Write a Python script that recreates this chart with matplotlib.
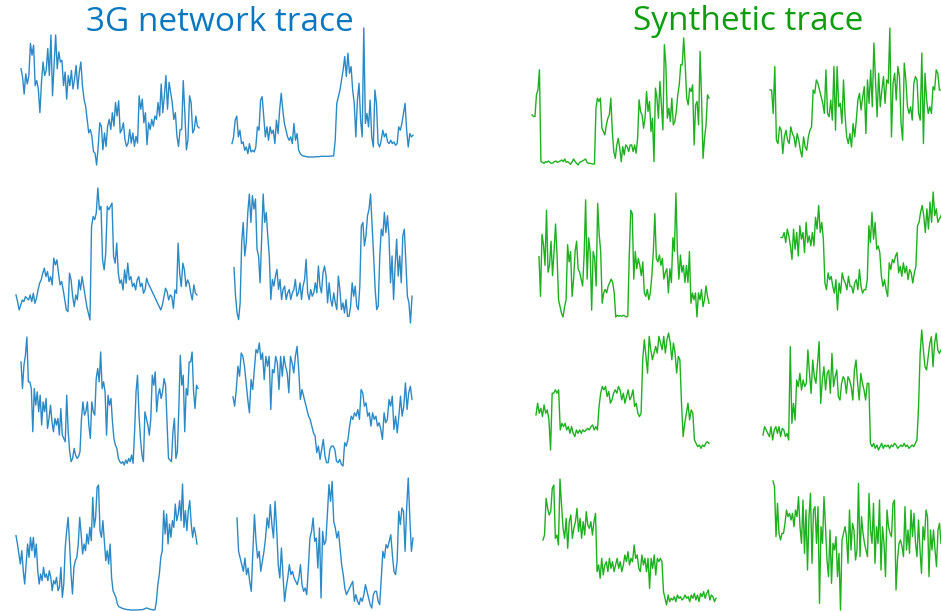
import matplotlib.pyplot as plt

# throughput samples (arbitrary units)
a1 = [285, 260, 210, 270, 240, 265, 360, 325, 355, 235, 250, 225, 155, 245, 305, 265, 280, 345, 265, 385,
      205, 295, 385, 285, 335, 305, 310, 235, 275, 195, 265, 235, 280, 225, 255, 295, 225, 275, 305, 235,
      195, 175, 135, 95, 105, 85, 40, 35, 0, 55, 125, 115, 45, 95, 55, 115, 135, 105, 155, 115, 185, 145,
      190, 95, 105, 125, 75, 55, 65, 105, 65, 95, 55, 85, 65, 205, 165, 195, 125, 155, 60, 125, 105, 135,
      115, 145, 135, 185, 145, 240, 155, 205, 265, 165, 245, 215, 185, 135, 155, 85, 55, 105, 105, 250,
      155, 45, 75, 205, 185, 95, 105, 145, 115, 110]
b1 = [40, 60, 110, 122, 60, 80, 40, 45, 20, 30, 10, 40, 15, 20, 15, 30, 90, 80, 170, 180, 120, 60, 90, 50,
      90, 70, 80, 40, 110, 70, 140, 190, 140, 100, 80, 60, 50, 60, 40, 100, 50, 70, 20, 10,
      5, 3, 2, 1, 0, 0, 0, 0, 0, 1, 1, 1, 2, 2, 2, 2, 2, 2, 3, 3, 3,
      50, 160, 180, 200, 230, 260, 300, 240, 310, 250, 270, 200, 160, 60, 170, 220, 110, 60, 385, 100,
      130, 90, 170, 60, 30, 200, 160, 40, 30, 50, 80, 60, 70, 45, 40, 50, 40, 45, 35, 40, 90, 80, 100,
      130, 160, 80, 30, 70, 60, 65]
a2 = [75, 55, 30, 45, 60, 55, 70, 65, 60, 75, 55, 80, 50, 65, 90, 110, 120, 140, 155, 130, 145, 115, 130,
      105, 185, 165, 180, 140, 105, 115, 90, 60, 30, 25, 140, 120, 70, 40, 75, 60, 120, 90, 130, 100, 70,
      40, 20, 0, 280, 310, 300, 320, 395, 330, 340, 180, 150, 200, 340, 330, 340, 350, 190, 170, 230, 140,
      110, 120, 90, 150, 110, 170, 120, 130, 100, 110, 90, 120, 130, 100, 110, 80, 90, 125, 110, 100, 90,
      80, 70, 60, 50, 40, 30, 45, 70, 95, 85, 60, 75, 70, 35, 90, 80, 230, 140, 100, 170, 150, 100, 120,
      110, 80, 60, 105, 80, 75]
b2 = [165, 80, 30, 10, 60, 240, 300, 200, 240, 330, 385, 300, 380, 340, 370, 220, 200, 120, 250, 385, 300,
      330, 260, 200, 70, 130, 110, 140, 160, 100, 130, 70, 100, 110, 70, 90, 100, 70, 90, 100, 130, 80, 90,
      120, 70, 110, 130, 190, 90, 70, 100, 80, 90, 120, 90, 170, 110, 90, 150, 170, 140, 60, 120, 70, 50,
      90, 60, 40, 140, 100, 40, 60, 30, 70, 20, 20, 50, 120, 80, 110, 50, 40, 110, 290, 300, 230, 260, 320,
      340, 385, 290, 200, 100, 40, 50, 200, 280, 260, 330, 270, 320, 260, 120, 200, 70, 170, 250, 140, 200,
      120, 260, 280, 180, 80, 60, 0, 80]
a3 = [310, 230, 300, 330, 385, 250, 250, 230, 100, 230, 180, 220, 160, 210, 120, 190, 160, 200, 110, 140,
      180, 130, 100, 140, 120, 140, 90, 170, 90, 80, 70, 210, 100, 40, 10, 20, 50, 30, 20, 25, 40, 140, 190,
      150, 160, 190, 120, 80, 190, 160, 150, 260, 290, 250, 340, 230, 250, 220, 90, 210, 180, 200, 130, 80,
      60, 50, 20, 10, 5, 10, 0, 15, 5, 20, 10, 30, 5, 100, 220, 270, 150, 80, 30, 10, 160, 140, 120, 90,
      140, 270, 240, 280, 160, 210, 230, 200, 220, 260, 240, 130, 20, 15, 10, 100, 140, 20, 40, 170, 330,
      240, 270, 100, 230, 210, 310, 310, 340, 220, 170, 240, 230]
b3 = [208, 180, 230, 300, 270, 340, 330, 300, 250, 200, 160, 260, 230, 290, 350, 340, 370, 320, 340, 260,
      330, 300, 330, 170, 290, 280, 330, 310, 230, 330, 270, 330, 300, 280, 220, 330, 310, 280, 330, 360,
      290, 200, 230, 210, 190, 170, 150, 140, 120, 100, 90, 40, 60, 20, 50, 80, 30, 10, 10, 50, 60, 60, 50,
      15, 10, 20, 5, 0, 70, 60, 80, 120, 150, 140, 160, 150, 170, 140, 230, 220, 180, 190, 150, 160, 120,
      160, 140, 150, 120, 130, 110, 80, 160, 130, 140, 200, 180, 210, 110, 150, 100, 150, 210, 150, 180,
      250, 170, 220, 240, 200]
a4 = [225, 200, 170, 140, 180, 120, 80, 140, 200, 160, 220, 180, 220, 160, 200, 120, 80, 110, 90, 130, 100,
      110, 90, 120, 100, 60, 90, 80, 100, 60, 70, 130, 40, 80, 190, 240, 280, 200, 110, 50, 130, 150, 160,
      200, 280, 230, 170, 200, 180, 230, 200, 250, 210, 340, 250, 280, 370, 377, 240, 220, 270, 210, 150,
      180, 140, 200, 100, 60, 50, 40, 20, 12, 10, 8, 6, 5, 4, 3, 3, 2, 2, 2, 2, 2, 2, 3, 3, 3, 4, 6, 8,
      7, 5, 4, 3, 2, 3, 30, 80, 110, 160, 180, 300, 230, 290, 200, 260, 220, 270, 250, 320, 270, 290,
      330, 270, 380, 250, 300, 240, 300, 330, 260, 220, 250, 230, 200]
b4 = [270, 170, 150, 130, 110, 150, 100, 120, 80, 50, 170, 280, 200, 150, 170, 110, 140, 170, 210, 270,
      240, 310, 250, 210, 320, 240, 130, 90, 180, 100, 20, 60, 90, 130, 100, 110, 90, 80, 70, 90, 130, 70,
      50, 60, 40, 120, 210, 230, 270, 200, 210, 120, 240, 30, 230, 190, 200, 280, 370, 320, 380, 260, 240,
      210, 230, 180, 130, 100, 60, 40, 50, 60, 70, 80, 20, 40, 20, 10, 30, 20, 40, 70, 50, 30, 10, 0, 40,
      50, 50, 20, 10, 90, 170, 150, 190, 180, 200, 220, 160, 110, 100, 140, 290, 250, 300, 290, 170, 300,
      390, 270, 170, 210]

c1 = [150, 145, 145, 210, 225, 285,
      10, 8, 5, 10, 8, 12, 8, 5, 6, 10, 12, 8, 10, 12, 15, 10, 18, 8, 10, 6, 2, 10, 18, 10, 5, 0, 8, 10,
      12, 15, 18, 8, 5, 5, 4, 3, 3,
      170, 200, 190, 200, 110, 100, 90, 120, 140, 150, 200, 100, 40, 20, 60, 80, 50, 10, 55, 30, 60, 55,
      40, 60, 60, 40, 60, 35, 80, 195, 160, 150, 110, 140, 220, 160, 190, 100, 140, 10, 230, 200, 140, 250,
      180, 105, 360, 300, 140, 170, 130, 200, 120, 130, 160, 210, 240, 300, 300, 380, 300, 200, 180, 230,
      220, 240, 60, 180, 190, 120, 340, 200, 20, 80, 120, 210, 200]
d1 = [200, 200, 130, 270, 50, 40, 90, 80, 10, 60, 80, 50, 40, 90, 70, 60, 30, 70, 50, 20, 0, 60, 30, 20,
      60, 80, 90, 200, 190, 230, 220, 200, 180, 160, 130, 260, 130, 120, 170, 110, 270, 80, 270, 150, 160,
      100, 230, 120, 60, 40, 70, 30, 100, 60, 110, 170, 190, 140, 180, 210, 70, 230, 160, 260, 150, 340,
      230, 120, 250, 150, 200, 240, 160, 230, 220, 385, 60, 220, 250, 170, 270, 240, 100, 50, 280, 230,
      150, 130, 150, 110, 220, 240, 230, 130, 110, 310, 40, 250, 170, 130, 150, 130, 210, 200, 260, 250,
      200, 200]
c2 = [185, 70, 250, 220, 160, 320, 140, 160, 230, 130, 200, 280, 190, 60, 40, 20, 10, 40, 60, 220, 170,
      200, 70, 120, 200, 230, 150, 140, 120, 100, 190, 350, 120, 240, 200, 30, 200, 180, 100, 340, 250, 200,
      50, 80, 90, 80, 100, 110, 120, 110, 80, 10, 15, 12, 14, 12, 15, 13, 10, 12, 190, 320, 310, 120, 200,
      150, 180, 160, 130, 170, 80, 70, 90, 60, 80, 130, 200, 310, 180, 170, 190, 160, 180, 120, 140, 150,
      80, 150, 110, 240, 200, 370, 200, 120, 190, 140, 160, 110, 160, 110, 200, 50, 80, 60, 80, 10, 80, 60,
      90, 40, 60, 100, 70, 50]
d2 = [215, 215, 230, 200, 240, 220, 190, 150, 240, 180, 230, 160, 250, 210, 230, 170, 260, 200, 220, 190,
      230, 190, 275, 240, 310, 230, 260, 210, 80, 60, 110, 90, 100, 70, 50, 90, 0, 80, 50, 110, 90, 80, 60,
      100, 70, 70, 50, 80, 90, 60, 120, 70, 50, 60, 60, 90, 250, 200, 290, 210, 260, 180, 190, 170, 100, 70,
      90, 60, 40, 140, 120, 150, 140, 160, 170, 110, 130, 100, 140, 110, 130, 90, 120, 110, 80, 110, 130,
      250, 260, 290, 310, 280, 230, 300, 240, 320, 260, 350, 280, 300, 260, 270, 280]
c3 = [105, 140, 110, 125, 100, 135, 110, 120, 90, 0, 170, 170, 180, 170, 180, 60, 80, 70, 80, 60, 70, 50,
      70, 50, 40, 60, 50, 60, 50, 60, 55, 60, 65, 60, 70, 75, 60, 70, 60, 130, 170, 190, 180, 190, 160,
      175, 140, 150, 170, 180, 170, 190, 180, 150, 170, 140, 160, 180, 150, 160, 180, 130, 140, 110, 100,
      110, 270, 330, 280, 230, 340, 300, 270, 290, 310, 290, 340, 320, 300, 340, 290, 330, 350, 320, 270,
      320, 290, 230, 280, 270, 140, 40, 80, 110, 140, 90, 120, 110, 30, 20, 10, 15, 5, 15, 10, 20, 25, 20]
d3 = [45, 70, 60, 50, 40, 70, 30, 60, 70, 50, 70, 40, 65, 60, 40, 50, 30, 310, 80, 140, 90, 210, 190, 230,
      180, 210, 190, 200, 300, 230, 170, 270, 220, 200, 260, 325, 140, 210, 250, 180, 230, 240, 170, 290,
      190, 220, 240, 160, 150, 200, 220, 210, 170, 220, 210, 190, 150, 240, 270, 200, 150, 230, 200, 180,
      150, 200, 200, 20, 10, 20, 5, 15, 0, 10, 20, 5, 15, 10, 15, 5, 15, 10, 20, 15, 5, 10, 15, 10, 20, 10,
      15, 5, 10, 15, 10, 20, 30, 130, 290, 360, 300, 250, 240, 280, 320, 340, 250, 320, 350, 300, 290, 300]
c4 = [195, 210, 320, 290, 270, 280, 350, 360, 200, 210, 180, 378, 300, 230, 200, 260, 170, 250, 270, 200,
      230, 250, 290, 220, 260, 200, 250, 210, 280, 240, 230, 250, 210, 250, 275, 100, 120, 80, 140, 90, 120,
      130, 100, 140, 110, 130, 100, 120, 140, 110, 130, 100, 120, 150, 130, 160, 120, 140, 130, 180, 140,
      150, 110, 100, 150, 120, 140, 100, 140, 50, 140, 110, 150, 90, 140, 130, 140, 130, 40, 20, 0, 30, 10,
      20, 15, 25, 10, 30, 20, 25, 15, 20, 30, 20, 25, 10, 30, 20, 35, 15, 30, 10, 35, 25, 40, 20, 35, 45,
      15, 30, 25, 10, 20]
d4 = [387, 370, 220, 320, 230, 210, 230, 230, 260, 300, 280, 290, 270, 290, 250, 300, 280, 340, 250, 200,
      330, 170, 300, 120, 280, 350, 140, 300, 310, 200, 310, 20, 250, 200, 340, 250, 150, 100, 240, 80, 200,
      180, 220, 100, 170, 0, 210, 230, 250, 220, 140, 300, 180, 260, 240, 150, 180, 380, 160, 280, 230, 200,
      180, 160, 350, 240, 200, 320, 140, 250, 200, 330, 120, 250, 200, 100, 300, 250, 230, 220, 320, 330,
      60, 150, 200, 210, 190, 160, 310, 180, 240, 170, 300, 220, 290, 200, 160, 270, 180, 110, 250, 210,
      300, 280, 100, 240, 180, 240, 180, 130, 240, 260, 200]

titles = ["3G network trace", "Synthetic trace"]

W, H = 941, 611
BLUE, BLUE_T = "#2b8ac6", "#0a78c0"
GREEN, GREEN_T = "#1db11d", "#0c9e0c"

# pixel boxes: (left, right, top, bottom)
panels = [
    (a1, (21, 199, 35, 165), BLUE), (b1, (232, 413, 28, 157), BLUE),
    (a2, (16, 197, 188, 320), BLUE), (b2, (234, 412, 194, 323), BLUE),
    (a3, (21, 198, 337, 465), BLUE), (b3, (233, 412, 343, 466), BLUE),
    (a4, (16, 197, 484, 610), BLUE), (b4, (237, 413, 478, 608), BLUE),
    (c1, (532, 709, 38, 165), GREEN), (d1, (770, 941, 28, 157), GREEN),
    (c2, (539, 709, 193, 317), GREEN), (d2, (781, 941, 192, 310), GREEN),
    (c3, (536, 709, 333, 450), GREEN), (d3, (763, 941, 330, 450), GREEN),
    (c4, (543, 716, 479, 605), GREEN), (d4, (773, 941, 481, 610), GREEN),
]

fig = plt.figure(figsize=(W / 100, H / 100), dpi=100)

for vals, (x0, x1, yt, yb), col in panels:
    ax = fig.add_axes([x0 / W, 1 - yb / H, (x1 - x0) / W, (yb - yt) / H])
    ax.plot(range(len(vals)), vals, color=col, lw=1.0, clip_on=False)
    ax.set_xlim(0, len(vals) - 1)
    ax.set_ylim(min(vals), max(vals))
    ax.axis('off')

fig.text(220 / W, 1 - 31 / H, titles[0], color=BLUE_T, fontsize=24,
         family="Open Sans", ha='center', va='baseline')
fig.text(748 / W, 1 - 30 / H, titles[1], color=GREEN_T, fontsize=24,
         family="Open Sans", ha='center', va='baseline')

fig.savefig('out.png', dpi=100)
